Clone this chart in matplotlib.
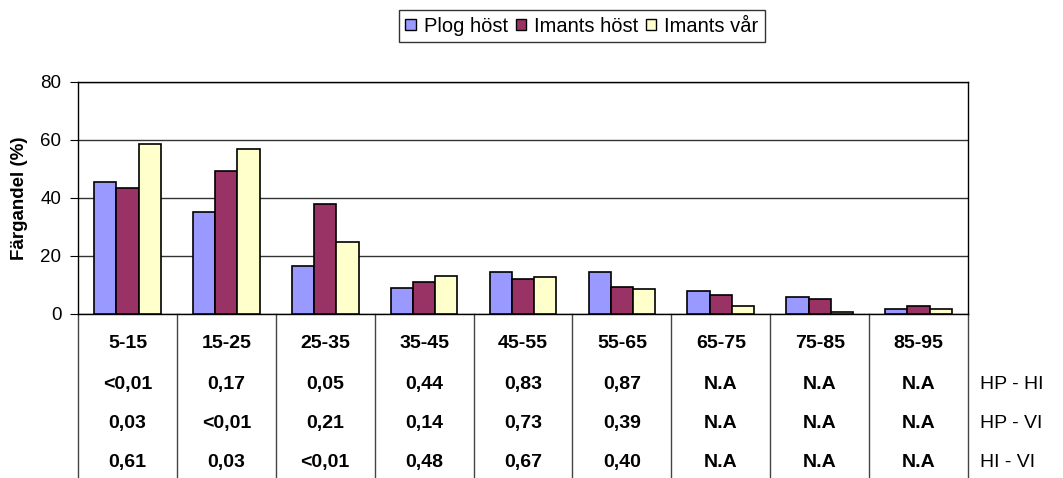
import numpy as np
import matplotlib.pyplot as plt
import matplotlib.transforms as mtransforms
from matplotlib.patches import Patch

plt.rcParams['font.family'] = ['Liberation Sans', 'DejaVu Sans']

# data
klasser = ["5-15", "15-25", "25-35", "35-45", "45-55", "55-65", "65-75", "75-85", "85-95"]
plog_host = [45.5, 35.1, 16.4, 8.8, 14.4, 14.4, 7.8, 6.0, 1.7]
imants_host = [43.3, 49.4, 37.8, 11.0, 12.1, 9.4, 6.5, 5.1, 2.8]
imants_var = [58.7, 56.9, 24.7, 13.2, 12.6, 8.7, 2.8, 0.6, 1.7]

serier = ["Plog höst", "Imants höst", "Imants vår"]
farger = ["#9999FF", "#993366", "#FFFFCC"]

hp_hi = ["<0,01", "0,17", "0,05", "0,44", "0,83", "0,87", "N.A", "N.A", "N.A"]
hp_vi = ["0,03", "<0,01", "0,21", "0,14", "0,73", "0,39", "N.A", "N.A", "N.A"]
hi_vi = ["0,61", "0,03", "<0,01", "0,48", "0,67", "0,40", "N.A", "N.A", "N.A"]
rad_namn = ["HP - HI", "HP - VI", "HI - VI"]

fig = plt.figure(figsize=(10.63, 4.78), dpi=100)
ax = fig.add_axes([78 / 1063, 1 - 314 / 478, 890 / 1063, 232 / 478])

x = np.arange(len(klasser)) + 0.5
bw = 0.225
for j, (vals, c) in enumerate(zip([plog_host, imants_host, imants_var], farger)):
    ax.bar(x + (j - 1) * bw, vals, width=bw, color=c, edgecolor="black", linewidth=1.2, zorder=3)

ax.set_xlim(0, len(klasser))
ax.set_ylim(0, 80)
ax.set_yticks([0, 20, 40, 60, 80])
ax.tick_params(axis="y", direction="out", length=6, labelsize=13.5, color="black", pad=6)
ax.set_xticks([])
ax.grid(axis="y", color="#333333", linewidth=1, zorder=0)
for s in ax.spines.values():
    s.set_color("black")
    s.set_linewidth(1)
ax.set_ylabel("Färgandel (%)", fontsize=13.5, fontweight="bold")
ax.yaxis.set_label_coords(-50 / 890, 0.5)

# table below the axes
trans = mtransforms.blended_transform_factory(ax.transData, ax.transAxes)
for i in range(len(klasser) + 1):
    ax.plot([i, i], [0, -0.72], transform=trans, color="#444444", linewidth=1, clip_on=False)

rader_y = [-0.129, -0.302, -0.474, -0.642]
rader = [klasser, hp_hi, hp_vi, hi_vi]
for ry, rad in zip(rader_y, rader):
    for xi, t in zip(x, rad):
        ax.text(xi, ry, t, transform=trans, ha="center", va="center",
                fontsize=14, fontweight="bold")
for ry, namn in zip(rader_y[1:], rad_namn):
    ax.text(len(klasser) + 0.12, ry, namn, transform=trans, ha="left", va="center", fontsize=14)

# legend
handles = [Patch(facecolor=c, edgecolor="black", linewidth=1) for c in farger]
leg = fig.legend(handles, serier, loc="center", bbox_to_anchor=(582 / 1063, 1 - 26 / 478),
                 ncol=3, fontsize=14.5, frameon=True, fancybox=False, edgecolor="black",
                 handlelength=0.5, handleheight=0.5, handletextpad=0.4, columnspacing=0.4,
                 borderpad=0.3, borderaxespad=0)
leg.get_frame().set_linewidth(1)

fig.savefig("out.png", dpi=100)
